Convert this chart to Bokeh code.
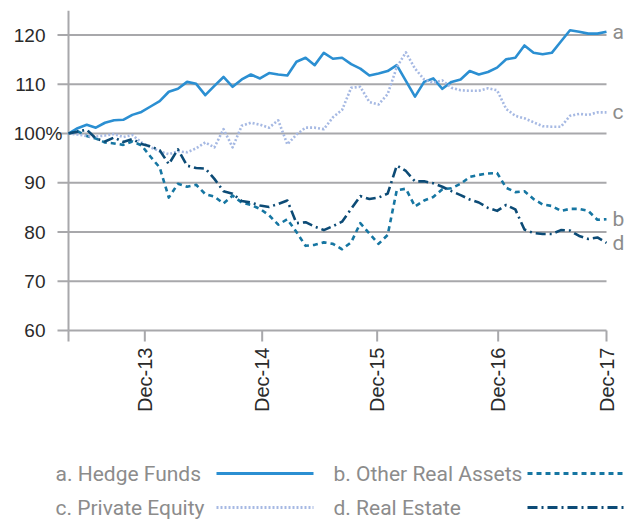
import math
import numpy as np
from bokeh.plotting import figure
from bokeh.models import Range1d, FixedTicker
from bokeh.core.properties import value
from bokeh.embed import file_html
from bokeh.resources import INLINE

# ---------------- data ----------------
hedge_funds = [100, 101.1, 101.8, 101.2, 102.2, 102.7, 102.8, 103.8, 104.4, 105.5,
               106.6, 108.5, 109.1, 110.5, 110.1, 107.8, 109.7, 111.5, 109.5, 111.0,
               112.0, 111.2, 112.3, 112.0, 111.8, 114.6, 115.4, 113.9, 116.4, 115.2,
               115.4, 114.1, 113.2, 111.8, 112.2, 112.7, 113.9, 110.7, 107.5, 110.5,
               111.2, 109.1, 110.5, 111.0, 112.7, 112.0, 112.5, 113.4, 115.1, 115.4,
               117.9, 116.4, 116.1, 116.4, 118.7, 121.0, 120.7, 120.3, 120.3, 120.7]
other_real_assets = [100, 100.5, 99.5, 99.0, 98.2, 98.0, 97.7, 98.4, 97.6, 95.3,
                     93.1, 87.0, 89.8, 89.2, 89.6, 87.7, 87.2, 85.8, 87.4, 86.0,
                     85.5, 84.7, 83.4, 81.5, 82.6, 80.0, 77.2, 77.4, 77.9, 77.6,
                     76.5, 77.9, 81.8, 79.7, 77.6, 79.4, 88.5, 88.8, 85.2, 86.4,
                     87.1, 88.7, 88.9, 89.8, 91.2, 91.6, 91.9, 92.0, 89.0, 88.1,
                     88.3, 86.7, 85.6, 85.3, 84.3, 84.7, 84.7, 84.3, 82.5, 82.6]
private_equity = [100, 99.8, 99.5, 99.4, 99.6, 99.9, 99.3, 99.7, 98.2, 97.2,
                  96.4, 95.8, 96.4, 96.2, 97.0, 98.2, 97.2, 100.9, 97.2, 101.6,
                  102.2, 101.8, 101.2, 102.7, 97.8, 99.8, 101.2, 101.2, 100.9, 103.3,
                  104.8, 109.3, 109.5, 106.4, 105.9, 108.0, 113.5, 116.5, 113.2, 111.0,
                  110.3, 110.8, 109.3, 108.8, 108.7, 108.7, 109.2, 108.8, 105.0, 103.6,
                  103.1, 102.3, 101.5, 101.4, 101.4, 103.6, 104.0, 103.8, 104.3, 104.3]
real_estate = [100, 100.4, 100.8, 99.0, 98.4, 99.2, 98.3, 98.9, 97.9, 97.4,
               96.6, 93.8, 96.8, 93.5, 93.0, 92.9, 90.8, 88.3, 87.8, 86.3,
               86.0, 85.4, 85.1, 85.7, 86.4, 81.8, 82.0, 81.1, 80.4, 81.2,
               82.1, 84.7, 87.3, 86.7, 87.0, 87.8, 93.5, 92.4, 90.3, 90.3,
               89.9, 89.2, 88.3, 87.5, 86.6, 86.0, 84.9, 84.3, 85.5, 84.6,
               80.5, 79.8, 79.6, 79.6, 80.4, 80.3, 79.2, 78.6, 78.9, 77.8]

series_keys = ["a", "b", "c", "d"]
series_names = ["a. Hedge Funds", "b. Other Real Assets", "c. Private Equity", "d. Real Estate"]
series_values = [hedge_funds, other_real_assets, private_equity, real_estate]

x_tick_pos = [0, 8.37, 21.24, 33.85, 47.12, 59]
x_tick_labels = ["", "Dec-13", "Dec-14", "Dec-15", "Dec-16", "Dec-17"]
y_ticks = [60, 70, 80, 90, 100, 110, 120]
y_tick_labels = ["60", "70", "80", "90", "100", "110", "120"]
y_unit_at = 100
y_unit = "%"
y_top = 125

# ---------------- styles / layout ----------------
colors = ["#2B8FD2", "#1676A2", "#A6B9E3", "#0C4B76"]
dashes = ["solid", "5 4", "2 2", "10 4 2 4"]
GRAY = "#A8A8AB"
LABEL_GRAY = "#8C8C8C"
TXT = "#2A2A2A"
AXFONT = "Liberation Sans"
LFONT = "Roboto"

W, H = 627, 420
FRAME_L, FRAME_R = 68, 606          # pixel x of first / last point
TOP, BASE = 10, 330                 # pixel y of y_top and of the lowest y tick
TICK = 11                           # tick length in px
n = len(hedge_funds)
k = (FRAME_R - FRAME_L) / (n - 1)   # px per index step
ppu = (BASE - TOP) / (y_top - y_ticks[0])   # px per value unit
x = np.arange(n)
x0, x1 = 0, n - 1
y_bottom = y_ticks[0] - (TICK + 1) / ppu

p = figure(width=W, height=H,
           x_range=Range1d(-FRAME_L / k, x1 + (W - FRAME_R) / k),
           y_range=Range1d(y_bottom, y_top), output_backend="svg",
           toolbar_location=None, min_border_left=0, min_border_right=0,
           min_border_top=TOP, min_border_bottom=H - BASE - TICK - 1)
p.outline_line_color = None
p.grid.visible = False
p.yaxis.visible = False

# horizontal grid lines (only across the data span); the lowest one is the x axis line
p.segment(x0=[x0] * len(y_ticks), x1=[x1] * len(y_ticks), y0=y_ticks, y1=y_ticks,
          line_color=GRAY, line_width=2)
# y axis line and ticks
p.segment(x0=[x0], x1=[x0], y0=[y_ticks[0]], y1=[y_top], line_color=GRAY, line_width=2)
p.segment(x0=[x0 - TICK / k] * len(y_ticks), x1=[x0] * len(y_ticks), y0=y_ticks,
          y1=y_ticks, line_color=GRAY, line_width=2)
# x ticks
p.segment(x0=x_tick_pos, x1=x_tick_pos, y0=[y_ticks[0]] * len(x_tick_pos),
          y1=[y_ticks[0] - TICK / ppu] * len(x_tick_pos), line_color=GRAY, line_width=2)
# y tick labels
p.text(x=[x0] * len(y_ticks), y=y_ticks, text=y_tick_labels, x_offset=-23,
       text_align="right", text_baseline="middle", text_font=value(AXFONT),
       text_font_size="19px", text_color=TXT)
p.text(x=[x0], y=[y_unit_at], text=[y_unit], x_offset=-23, text_align="left",
       text_baseline="middle", text_font=value(AXFONT), text_font_size="19px",
       text_color=TXT)

for vals, c, d in zip(series_values, colors, dashes):
    p.line(x, vals, line_color=c, line_width=2.6, line_dash=d, line_join="round")

# end-of-line letters
p.text(x=[len(v) - 1 for v in series_values], y=[v[-1] for v in series_values],
       text=series_keys, x_offset=6, text_align="left", text_baseline="middle",
       text_font=value(LFONT), text_font_size="21px", text_color=LABEL_GRAY)

# x axis labels (ticks drawn above)
xa = p.xaxis[0]
xa.ticker = FixedTicker(ticks=x_tick_pos)
xa.major_label_overrides = {t: l for t, l in zip(x_tick_pos, x_tick_labels)}
xa.major_label_orientation = math.pi / 2
xa.axis_line_color = None
xa.major_tick_line_color = None
xa.major_tick_out = 0
xa.major_tick_in = 0
xa.minor_tick_line_color = None
xa.major_label_text_font = AXFONT
xa.major_label_text_font_size = "20px"
xa.major_label_text_color = TXT
xa.major_label_standoff = 5

# ---------------- legend figure ----------------
leg = figure(width=627, height=99, x_range=Range1d(0, 627), y_range=Range1d(99, 0),
             output_backend="svg", toolbar_location=None, min_border=0)
leg.axis.visible = False
leg.grid.visible = False
leg.outline_line_color = None

row_y = [53, 53, 87, 87]
text_x = [55, 333, 55, 333]
sample_x0 = [216, 527, 216, 527]
sample_x1 = [313, 626, 313, 626]
leg.text(x=text_x, y=row_y, text=series_names, text_font=value(LFONT),
         text_font_size="21px", text_color=LABEL_GRAY, text_baseline="middle",
         text_align="left")
for i in range(4):
    leg.line([sample_x0[i], sample_x1[i]], [row_y[i], row_y[i]], line_color=colors[i],
             line_width=3, line_dash=dashes[i])

open("out.html", "w").write(file_html([p, leg], INLINE))
